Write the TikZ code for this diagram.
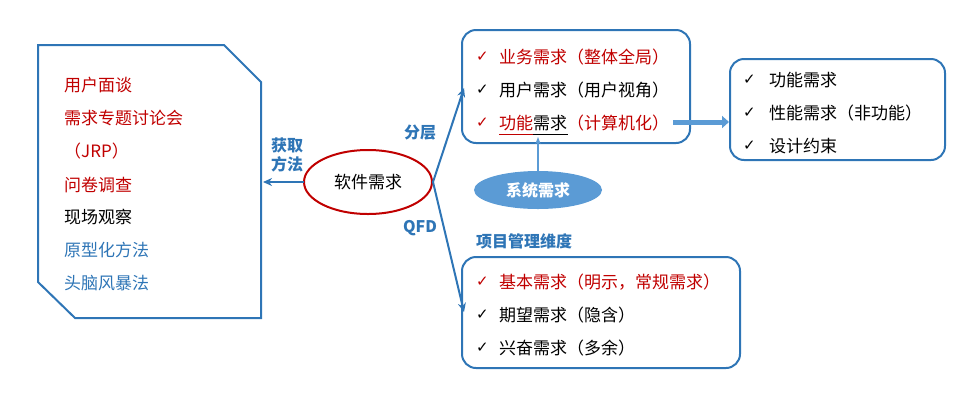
\documentclass[tikz,border=0pt]{standalone}
\usepackage{fontspec}
\setmainfont{Noto Sans CJK SC}
\newfontfamily\sym{DejaVu Sans}
\usetikzlibrary{arrows.meta,shapes.geometric}
\definecolor{bl}{HTML}{2E75B6}
\definecolor{rd}{HTML}{C00000}
\definecolor{fillbl}{HTML}{5B9BD5}
\begin{document}
\begin{tikzpicture}[x=1pt,y=-1pt,
  txt/.style={anchor=west,inner sep=0pt,font=\fontsize{17}{19}\selectfont},
  ck/.style={anchor=west,inner sep=0pt,font=\sym\fontsize{15}{17}\selectfont},
  lab/.style={inner sep=0pt,font=\bfseries\fontsize{16}{19}\selectfont,text=bl},
  conn/.style={draw=bl,line width=2pt,-{Stealth[length=9pt,width=8pt]}},
  rbox/.style={draw=bl,line width=2pt,rounded corners=14pt}]
\useasboundingbox (0,0) rectangle (980,400);
% left box
\draw[bl,line width=2pt] (38,45) -- (224,45) -- (261,82) -- (261,318) -- (75,318) -- (38,282) -- cycle;
\coordinate (lb) at (263,182);
\node[txt,text=rd] (l1) at (64,85) {用户面谈};
\node[txt,text=rd] (l2) at (64,118) {需求专题讨论会};
\node[txt,text=rd] (l3) at (64,151) {（JRP）};
\node[txt,text=rd] (l4) at (64,185) {问卷调查};
\node[txt] (l5) at (64,217) {现场观察};
\node[txt,text=bl] (l6) at (64,250) {原型化方法};
\node[txt,text=bl] (l7) at (64,283) {头脑风暴法};
% center ellipse
\draw[rd,line width=2pt] (368,182) ellipse (64 and 32);
\node[txt,anchor=center] (sw) at (368,182) {软件需求};
\coordinate (swl) at (304,182);
\coordinate (swr) at (433,182);
\draw[conn] (swl) -- (lb);
\node[lab,align=center] (hq) at (287,155) {获取\\方法};
% upper box
\draw[rbox] (462,30) rectangle (690,143);
\coordinate (ub) at (464,88);
\node[ck,text=rd] at (476,57) {✓};
\node[txt,text=rd] (u1) at (499,57) {业务需求（整体全局）};
\node[ck] at (476,90) {✓};
\node[txt] (u2) at (499,90) {用户需求（用户视角）};
\node[ck,text=rd] at (476,123) {✓};
\node[txt] (u3) at (499,123) {\textcolor{rd}{功能}需求\textcolor{rd}{（计算机化）}};
\draw[rd,line width=1pt] (499,134) -- (533,134);
\draw[line width=1pt] (533,134) -- (568,134);
\draw[conn] (swr) -- (ub);
\node[lab] (fc) at (420,133) {分层};
% right box
\draw[rbox] (730,59) rectangle (945,160);
\node[ck] at (743,80) {✓};
\node[txt] (r1) at (769,80) {功能需求};
\node[ck] at (743,113) {✓};
\node[txt] (r2) at (769,113) {性能需求（非功能）};
\node[ck] at (743,146) {✓};
\node[txt] (r3) at (769,146) {设计约束};
\coordinate (ra) at (673,122);
\coordinate (rb) at (729,122);
\draw[fillbl,line width=5pt,-{Triangle[length=7pt,width=12pt]}] (ra) -- (rb);
% system ellipse
\node[ellipse,fill=fillbl,minimum width=128pt,minimum height=38pt,inner sep=0pt,text=white,font=\bfseries\fontsize{16}{18}\selectfont] (sys) at (538,190) {系统需求};
\coordinate (fn) at (538,137);
\draw[draw=fillbl,line width=1.5pt,-{Stealth[length=7pt]}] (sys.north) -- (fn);
% lower
\node[lab,anchor=west] (pm) at (476,241) {项目管理维度};
\draw[rbox] (462,257) rectangle (740,368);
\coordinate (lbx) at (464,312);
\draw[conn] (swr) -- (lbx);
\node[lab] (qfd) at (420,228) {QFD};
\node[ck,text=rd] at (476,282) {✓};
\node[txt,text=rd] (b1) at (499,282) {基本需求（明示，常规需求）};
\node[ck] at (476,315) {✓};
\node[txt] (b2) at (499,315) {期望需求（隐含）};
\node[ck] at (476,348) {✓};
\node[txt] (b3) at (499,348) {兴奋需求（多余）};
\end{tikzpicture}
\end{document}
